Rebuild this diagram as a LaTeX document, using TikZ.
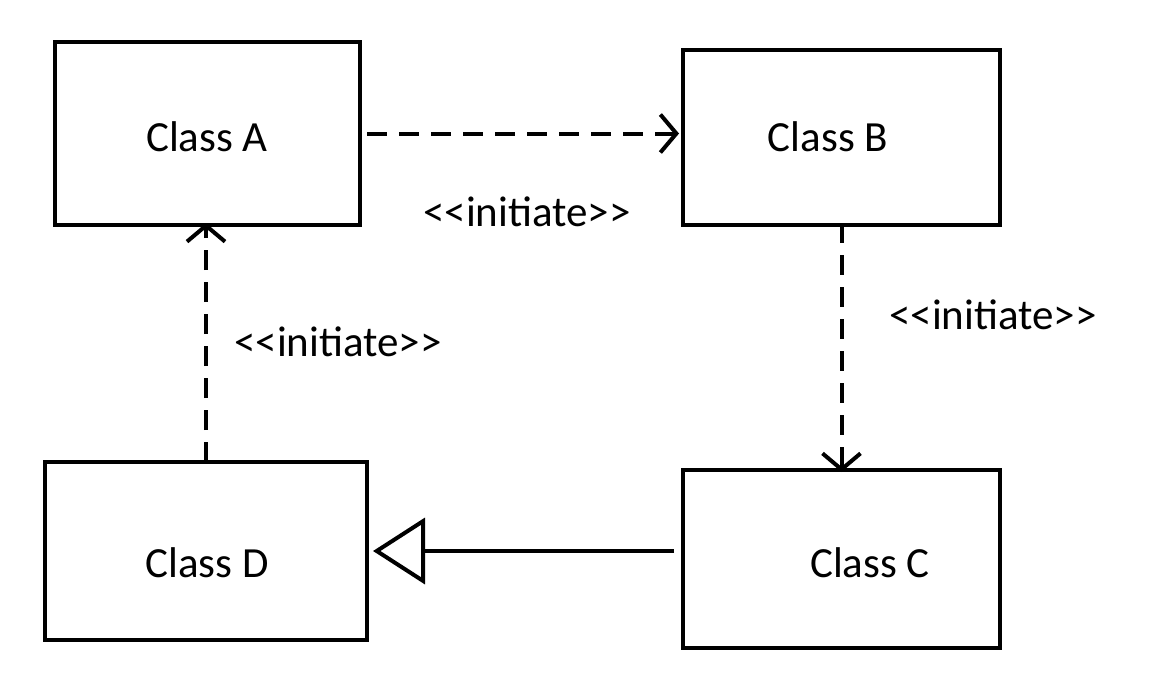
\documentclass[tikz,border=0pt]{standalone}
\usepackage{fontspec}
\setmainfont{Carlito}
\usetikzlibrary{arrows.meta}
\begin{document}
\begin{tikzpicture}[x=1pt,y=-1pt,
 box/.style={draw,line width=4pt,minimum width=#1,inner sep=0pt},
 txt/.style={font=\fontsize{43}{48}\selectfont},
 dep/.style={line width=4pt,dash pattern=on 20pt off 12pt,-{Straight Barb[length=16pt,width=38pt,line width=4pt]}},
 lbl/.style={font=\fontsize{43}{48}\selectfont},
 gen/.style={line width=4pt,-{Triangle[open,length=52pt,width=66pt,line width=4pt]}}]
\useasboundingbox (0,0) rectangle (1156,678);
\node[box=305pt,minimum height=183pt] (A) at (207.5,133.5) {};
\node[box=317pt,minimum height=175pt] (B) at (841.5,137.5) {};
\node[box=317pt,minimum height=178pt] (C) at (841.5,559) {};
\node[box=322pt,minimum height=178pt] (D) at (206,551) {};
\node[txt] (tA) at (207,137) {Class A};
\node[txt] (tB) at (828,137) {Class B};
\node[txt] (tC) at (870,563) {Class C};
\node[txt] (tD) at (207,563) {Class D};
\draw[dep] ([xshift=5pt]A.east) -- ([xshift=-2pt]B.west |- A.east);
\draw[dep] ([yshift=4pt]B.south) -- ([yshift=-4pt]C.north);
\draw[dep] ([yshift=-2pt]D.north) -- ([yshift=4pt]D.north |- A.south);
\draw[gen] ([xshift=-7pt,yshift=8pt]C.west) -- ([xshift=4pt,yshift=8pt]D.east |- C.west);
\node[lbl] (l1) at (527,212) {<{}<initiate>{}>};
\node[lbl] (l2) at (993,315) {<{}<initiate>{}>};
\node[lbl] (l3) at (338,342) {<{}<initiate>{}>};
\end{tikzpicture}
\end{document}
